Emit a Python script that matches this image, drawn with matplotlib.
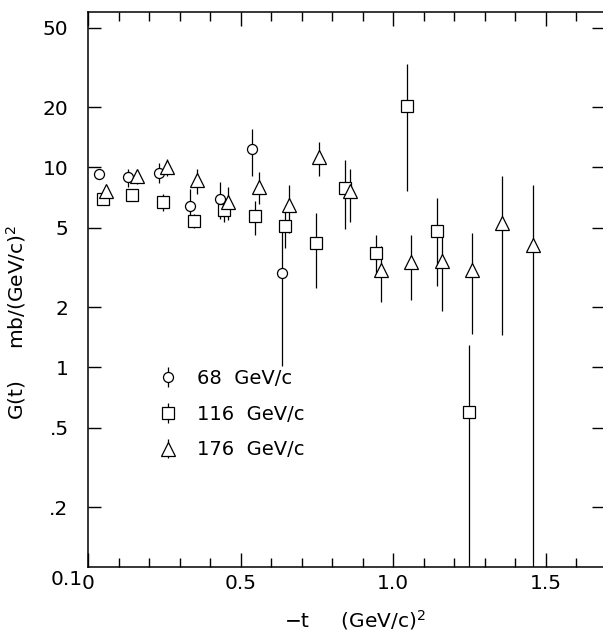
import numpy as np
import matplotlib
matplotlib.use('Agg')
import matplotlib.pyplot as plt
import matplotlib.transforms as mtransforms

# --- DATA ---
# 68 GeV/c  (circles)
t_68 = [0.036, 0.132, 0.234, 0.334, 0.434, 0.537, 0.637]
g_68 = [9.3, 8.9, 9.4, 6.4, 6.95, 12.3, 2.97]
e_68 = [0.4, 0.9, 1.05, 1.35, 1.45, 3.3, 1.95]

# 116 GeV/c  (squares)
t_116 = [0.050, 0.145, 0.247, 0.349, 0.447, 0.548, 0.646, 0.748, 0.843,
         0.944, 1.045, 1.145, 1.248]
g_116 = [6.95, 7.3, 6.7, 5.4, 6.1, 5.7, 5.06, 4.2, 7.9, 3.75, 20.2, 4.8, 0.60]
e_116 = [0.4, 0.4, 0.65, 0.45, 0.75, 1.1, 1.1, 1.7, 3.0, 0.85, 12.6, 2.25, 0.69]

# 176 GeV/c  (triangles)
t_176 = [0.058, 0.160, 0.258, 0.356, 0.458, 0.559, 0.659, 0.757, 0.859,
         0.960, 1.058, 1.160, 1.260, 1.356, 1.458]
g_176 = [7.65, 9.0, 10.0, 8.6, 6.7, 8.0, 6.45, 11.2, 7.6, 3.07, 3.38, 3.42,
         3.07, 5.25, 4.1]
e_176 = [0.4, 0.7, 1.0, 1.25, 1.25, 1.45, 1.75, 2.15, 2.25, 0.95, 1.2, 1.5,
         1.6, 3.8, 4.09]

series = [
    (t_68, g_68, e_68, 'o', 7.2, '68  GeV/c'),
    (t_116, g_116, e_116, 's', 8.6, '116  GeV/c'),
    (t_176, g_176, e_176, '^', 9.4, '176  GeV/c'),
]

y_ticks = [0.2, 0.5, 1, 2, 5, 10, 20, 50]
y_labels = ['.2', '.5', '1', '2', '5', '10', '20', '50']
x_ticks = [0, 0.5, 1.0, 1.5]
x_labels = ['0', '0.5', '1.0', '1.5']

plt.rcParams['font.family'] = 'DejaVu Sans'
FS = 14.5

W, H = 603, 633
fig = plt.figure(figsize=(W / 100, H / 100), dpi=100)
ax = fig.add_axes([88 / W, 1 - 567.3 / H, (605 - 88) / W, (567.3 - 11.7) / H])

handles = []
for t, g, e, m, ms, lab in series:
    h = ax.errorbar(t, g, yerr=e, fmt=m, ms=ms, mfc='white', mec='black',
                    mew=0.9, ecolor='black', elinewidth=0.9, capsize=0,
                    label=lab, zorder=3)
    handles.append(h)

ax.set_yscale('log', nonpositive='clip')
ax.set_xlim(0, 1.695)
ax.set_ylim(0.1, 60)

ax.set_yticks(y_ticks)
ax.set_yticklabels(y_labels)
ax.yaxis.set_minor_locator(matplotlib.ticker.NullLocator())
ax.set_xticks(x_ticks)
ax.set_xticklabels(x_labels)
ax.set_xticks(np.arange(0.1, 1.7, 0.1), minor=True)

ax.tick_params(axis='y', which='major', direction='in', length=9.4, width=1.0,
               right=True, labelsize=FS, pad=14)
ax.tick_params(axis='x', which='major', direction='in', length=10, width=1.0,
               top=True, labelsize=FS, pad=5)
ax.tick_params(axis='x', which='minor', direction='in', length=6.5, width=1.0,
               top=True)
for s in ax.spines.values():
    s.set_linewidth(1.1)

# bottom-left "0.1" label sits a little below the axis corner
trans = mtransforms.blended_transform_factory(ax.transAxes, ax.transData)
ax.annotate('0.1', xy=(0, 0.1), xycoords=trans, xytext=(-4, -2),
            textcoords='offset points', ha='right', va='top', fontsize=FS,
            annotation_clip=False)

fig.text(355 / W, 1 - 620 / H, r'$-$t     (GeV/c)$^2$', ha='center',
         va='center', fontsize=FS)
fig.text(16 / W, 1 - 322 / H, r'G(t)     mb/(GeV/c)$^2$', ha='center',
         va='center', rotation=90, fontsize=FS)

ax.legend(handles=handles, loc='upper left',
          bbox_to_anchor=(160 / W, 1 - 369 / H), bbox_transform=fig.transFigure,
          frameon=False, fontsize=14, handlelength=0.8, handletextpad=1.1,
          labelspacing=0.86, borderpad=0, borderaxespad=0)

fig.savefig('out.png', dpi=100, facecolor='white')
